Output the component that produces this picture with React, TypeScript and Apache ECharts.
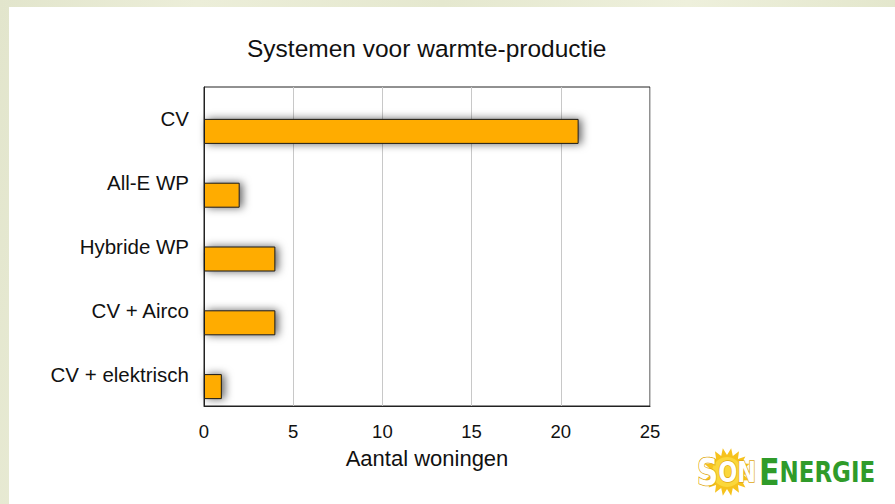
import React, { useEffect, useRef } from "react";
import * as echarts from "echarts";

const categories = ["CV", "All-E WP", "Hybride WP", "CV + Airco", "CV + elektrisch"];
const values = [21, 2, 4, 4, 1];
const xTicks = { min: 0, max: 25, interval: 5 };
const titleText = "Systemen voor warmte-productie";
const xName = "Aantal woningen";

function sunPoints(cx: number, cy: number, rOut: number, rIn: number, n: number) {
  const pts: number[][] = [];
  for (let i = 0; i < n * 2; i++) {
    const a = (Math.PI * i) / n;
    const r = i % 2 === 0 ? rOut : rIn;
    pts.push([cx + r * Math.cos(a), cy + r * Math.sin(a)]);
  }
  return pts;
}

export default function App() {
  const ref = useRef<HTMLDivElement>(null);
  useEffect(() => {
    if (!ref.current) return;
    const chart = echarts.init(ref.current, undefined, { renderer: "svg" });
    const font = "'Liberation Sans', Arial, Helvetica, sans-serif";
    const logoFont = "'Liberation Sans Narrow', 'DejaVu Sans Condensed', 'Liberation Sans', sans-serif";
    chart.setOption({
      animation: false,
      backgroundColor: "transparent",
      title: {
        text: titleText,
        left: 247,
        top: 36,
        padding: 0,
        textStyle: { fontFamily: font, fontSize: 24.5, fontWeight: "normal", color: "#111" },
      },
      grid: {
        left: 204,
        top: 87,
        right: 245,
        bottom: 98,
        show: true,
        borderColor: "#222",
        borderWidth: 1,
        backgroundColor: "transparent",
      },
      xAxis: {
        type: "value",
        min: xTicks.min,
        max: xTicks.max,
        interval: xTicks.interval,
        name: xName,
        nameLocation: "middle",
        nameGap: 41,
        nameTextStyle: { fontFamily: font, fontSize: 22, color: "#111" },
        axisLine: { show: true, lineStyle: { color: "#222", width: 1 } },
        axisTick: { show: false },
        axisLabel: { fontFamily: font, fontSize: 18.5, color: "#111", margin: 16 },
        splitLine: { show: true, lineStyle: { color: "#c8c8c8", width: 1 } },
      },
      yAxis: {
        type: "category",
        data: categories,
        inverse: true,
        axisLine: { show: true, lineStyle: { color: "#222", width: 1 } },
        axisTick: { show: false },
        axisLabel: { fontFamily: font, fontSize: 20.5, color: "#111", margin: 15 },
        splitLine: { show: false },
      },
      series: [
        {
          type: "bar",
          name: "spacer",
          data: categories.map(() => "-"),
          barWidth: 25,
          barGap: "0%",
          silent: true,
          itemStyle: { color: "transparent" },
        },
        {
          type: "bar",
          name: "Aantal woningen",
          data: values,
          barWidth: 25,
          barGap: "0%",
          itemStyle: {
            color: "#FFAC00",
            borderColor: "#1a1a1a",
            borderWidth: 1,
            shadowColor: "rgba(0,0,0,0.6)",
            shadowBlur: 9,
            shadowOffsetX: 3,
            shadowOffsetY: 0,
          },
        },
      ],
      graphic: [
        {
          type: "polygon",
          silent: true,
          shape: { points: sunPoints(727, 472, 24, 17, 18) },
          style: { fill: "#f6c21c" },
        },
        {
          type: "circle",
          silent: true,
          shape: { cx: 727, cy: 472, r: 15 },
          style: { fill: "#fbd73a" },
        },
        {
          type: "text",
          silent: true,
          x: 697,
          y: 491,
          scaleX: 0.86,
          style: {
            text: "{b|S}{s|ON}",
            textVerticalAlign: "bottom",
            fill: "#ffffff",
            stroke: "#e0a810",
            lineWidth: 1.5,
            rich: {
              b: { fontFamily: logoFont, fontWeight: "bold", fontSize: 38, fill: "#fff", stroke: "#e0a810", lineWidth: 1.5 },
              s: { fontFamily: logoFont, fontWeight: "bold", fontSize: 29, fill: "#fff", stroke: "#e0a810", lineWidth: 1.5 },
            },
          },
        },
        {
          type: "text",
          silent: true,
          x: 759,
          y: 491,
          scaleX: 0.88,
          style: {
            text: "{b|E}{s|NERGIE}",
            textVerticalAlign: "bottom",
            fill: "#2f9b2a",
            rich: {
              b: { fontFamily: logoFont, fontWeight: "bold", fontSize: 38, fill: "#2f9b2a" },
              s: { fontFamily: logoFont, fontWeight: "bold", fontSize: 29, fill: "#2f9b2a" },
            },
          },
        },
      ],
    });
    return () => chart.dispose();
  }, []);

  return (
    <div
      style={{
        position: "fixed",
        left: 0,
        top: 0,
        width: 895,
        height: 504,
        overflow: "hidden",
        background:
          "linear-gradient(100deg, #e2e5cc 0%, #eceed9 20%, #e5e8cf 45%, #eef0dc 70%, #dfe3c6 100%)",
      }}
    >
      <div
        style={{ position: "absolute", left: 9, top: 7, right: 0, bottom: 0, background: "#ffffff" }}
      />
      <div ref={ref} style={{ position: "absolute", left: 0, top: 0, width: 895, height: 504 }} />
    </div>
  );
}
